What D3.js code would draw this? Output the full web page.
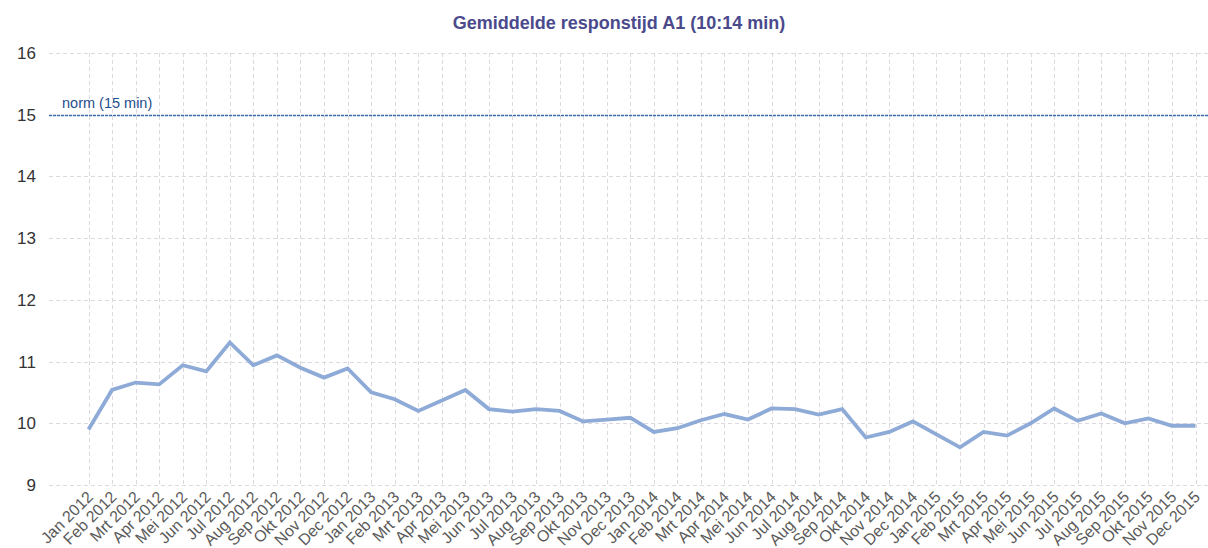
<!DOCTYPE html>
<html>
<head>
<meta charset="utf-8">
<script src="https://cdn.jsdelivr.net/npm/d3@7"></script>
<style>
  body { margin: 0; background: #fff; }
  svg { display: block; font-family: "Liberation Sans", Arial, sans-serif; }
</style>
</head>
<body>
<svg width="1208" height="548"></svg>
<script>
// months shown on the x axis
var months = ["Jan 2012","Feb 2012","Mrt 2012","Apr 2012","Mei 2012","Jun 2012","Jul 2012","Aug 2012","Sep 2012","Okt 2012","Nov 2012","Dec 2012",
  "Jan 2013","Feb 2013","Mrt 2013","Apr 2013","Mei 2013","Jun 2013","Jul 2013","Aug 2013","Sep 2013","Okt 2013","Nov 2013","Dec 2013",
  "Jan 2014","Feb 2014","Mrt 2014","Apr 2014","Mei 2014","Jun 2014","Jul 2014","Aug 2014","Sep 2014","Okt 2014","Nov 2014","Dec 2014",
  "Jan 2015","Feb 2015","Mrt 2015","Apr 2015","Mei 2015","Jun 2015","Jul 2015","Aug 2015","Sep 2015","Okt 2015","Nov 2015","Dec 2015"];
// average response time in minutes
var responstijd = [9.90,10.54,10.66,10.63,10.94,10.84,11.31,10.94,11.10,10.90,10.74,10.89,
  10.50,10.39,10.20,10.37,10.54,10.23,10.19,10.23,10.20,10.03,10.06,10.09,
  9.86,9.92,10.05,10.15,10.06,10.24,10.23,10.14,10.23,9.77,9.86,10.03,
  9.82,9.61,9.86,9.80,10.00,10.24,10.04,10.16,10.00,10.08,9.96,9.96];
var yTicks = [9,10,11,12,13,14,15,16];
var norm = 15;
var title = "Gemiddelde responstijd A1 (10:14 min)";

var svg = d3.select("svg");
var width = +svg.attr("width");

var x = d3.scalePoint().domain(months).range([88.5, 1195.5]);
var y = d3.scaleLinear().domain([9, 16]).range([485, 53]);
var left = 49;

//Title
svg.append("text")
  .attr("x", 619).attr("y", 29)
  .attr("text-anchor", "middle")
  .attr("font-size", 18).attr("font-weight", "bold")
  .attr("fill", "#4a4a8c")
  .text(title);

//Grid lines, horizontal
svg.append("g").selectAll("line")
  .data(yTicks).enter().append("line")
  .attr("x1", left).attr("x2", width)
  .attr("y1", function(d) { return Math.round(y(d)) + 0.5; })
  .attr("y2", function(d) { return Math.round(y(d)) + 0.5; })
  .attr("stroke", "#ddd8de").attr("stroke-dasharray", "4,3");

//Grid lines, vertical (one per month)
svg.append("g").selectAll("line")
  .data(months).enter().append("line")
  .attr("x1", function(d) { return Math.round(x(d)) + 0.5; })
  .attr("x2", function(d) { return Math.round(x(d)) + 0.5; })
  .attr("y1", y(16)).attr("y2", y(9))
  .attr("stroke", "#ddd8de").attr("stroke-dasharray", "4,3");

//Y axis labels
var yAxis = svg.append("g")
  .attr("transform", "translate(" + 36 + ",0)")
  .call(d3.axisLeft(y).tickValues(yTicks).tickFormat(d3.format("d")).tickSize(0).tickPadding(0));
yAxis.select(".domain").remove();
yAxis.selectAll("text")
  .attr("font-size", 17).attr("fill", "#333")
  .attr("font-family", "Liberation Sans, Arial, sans-serif");

//X axis labels, rotated
var xAxis = svg.append("g")
  .attr("transform", "translate(0," + 490 + ")")
  .call(d3.axisBottom(x).tickSize(0).tickPadding(0));
xAxis.select(".domain").remove();
xAxis.selectAll("text")
  .attr("font-size", 16).attr("fill", "#5a5a5a")
  .attr("font-family", "Liberation Sans, Arial, sans-serif")
  .attr("text-anchor", "end")
  .attr("y", 0).attr("dy", 0)
  .attr("transform", "translate(5,8) rotate(-45)");

//Norm line
svg.append("line")
  .attr("x1", left).attr("x2", width)
  .attr("y1", Math.round(y(norm)) + 0.5).attr("y2", Math.round(y(norm)) + 0.5)
  .attr("stroke", "#3a6cb0").attr("stroke-width", 1.4)
  .attr("stroke-dasharray", "3,1");
svg.append("text")
  .attr("x", 62).attr("y", 108)
  .attr("font-size", 14.5).attr("fill", "#1f4e8c")
  .text("norm (15 min)");

//Data line
var line = d3.line()
  .x(function(d, i) { return x(months[i]); })
  .y(function(d) { return y(d); });
svg.append("path")
  .datum(responstijd)
  .attr("d", line)
  .attr("fill", "none")
  .attr("stroke", "#8eaad6")
  .attr("stroke-width", 3.8)
  .attr("stroke-linejoin", "miter");
</script>
</body>
</html>
